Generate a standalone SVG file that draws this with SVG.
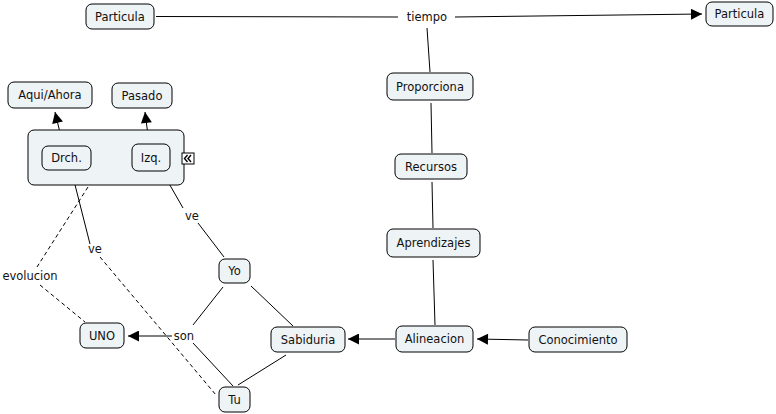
<svg xmlns="http://www.w3.org/2000/svg" width="776" height="414" viewBox="0 0 776 414">
<style>
.n rect{fill:#eef3f5;stroke:#000;stroke-width:1}
text{font-family:"DejaVu Sans",Verdana,sans-serif;font-size:11.5px;fill:#111;text-anchor:middle;dominant-baseline:central}
.c line,.c polyline{stroke:#000;stroke-width:1;fill:none}
.c .d{stroke-dasharray:4,3}
</style>
<defs>
<marker id="a" viewBox="0 0 10 10" refX="10" refY="5" markerWidth="12" markerHeight="11" markerUnits="userSpaceOnUse" orient="auto"><path d="M0,0 L10,5 L0,10 z" fill="#000"/></marker>
</defs>
<rect width="776" height="414" fill="#fff"/>
<g class="c">
<line x1="156" y1="16.5" x2="398" y2="17"/>
<line x1="455" y1="17" x2="702" y2="14" marker-end="url(#a)"/>
<line x1="427" y1="28" x2="430" y2="72"/>
<line x1="431" y1="103" x2="432" y2="153"/>
<line x1="432" y1="182" x2="433" y2="228"/>
<line x1="433" y1="260" x2="435" y2="325"/>
<line x1="528" y1="340" x2="477" y2="339" marker-end="url(#a)"/>
<line x1="395" y1="339" x2="348" y2="339" marker-end="url(#a)"/>
<line x1="251" y1="286" x2="293" y2="326"/>
<line x1="286" y1="355" x2="238" y2="385"/>
<line x1="223" y1="287" x2="193" y2="325"/>
<line x1="193" y1="343" x2="233" y2="386"/>
<line x1="172" y1="336" x2="128" y2="336" marker-end="url(#a)"/>
<line x1="163" y1="173" x2="183" y2="208"/>
<line x1="198" y1="223" x2="224" y2="257"/>
<line x1="72" y1="173" x2="90" y2="244"/>
<line class="d" x1="100" y1="257" x2="216" y2="395"/>
<line class="d" x1="88" y1="187" x2="37" y2="267"/>
<line class="d" x1="40" y1="285" x2="85" y2="322"/>
<line x1="63" y1="145" x2="55" y2="112" marker-end="url(#a)"/>
<line x1="149" y1="143" x2="145" y2="112" marker-end="url(#a)"/>
</g>
<g class="c-labels">
<text x="427" y="17">tiempo</text>
<text x="192" y="216">ve</text>
<text x="95" y="249">ve</text>
<text x="30" y="276">evolucion</text>
<text x="184" y="336">son</text>
</g>
<g id="n-container" class="n"><rect x="28" y="130" width="156" height="55" rx="6"/>
<rect x="182" y="153" width="12" height="11" style="fill:#fff;stroke:#000"/>
<polyline points="187.5,155 184.5,158.5 187.5,162" fill="none" stroke="#000" stroke-width="1.4"/>
<polyline points="191,155 188,158.5 191,162" fill="none" stroke="#000" stroke-width="1.4"/>
</g>
<g id="n-particula1" class="n"><rect x="86" y="4" width="68" height="25" rx="6"/><text x="120" y="16.5">Particula</text></g>
<g id="n-particula2" class="n"><rect x="706" y="2" width="67" height="24" rx="6"/><text x="739.5" y="14">Particula</text></g>
<g id="n-proporciona" class="n"><rect x="387" y="73" width="86" height="27" rx="6"/><text x="430" y="86.5">Proporciona</text></g>
<g id="n-recursos" class="n"><rect x="395" y="154" width="72" height="25" rx="6"/><text x="431" y="166.5">Recursos</text></g>
<g id="n-aprendizajes" class="n"><rect x="387" y="229" width="93" height="28" rx="6"/><text x="433.5" y="243">Aprendizajes</text></g>
<g id="n-alineacion" class="n"><rect x="396" y="326" width="77" height="26" rx="6"/><text x="434.5" y="339">Alineacion</text></g>
<g id="n-conocimiento" class="n"><rect x="529" y="327" width="98" height="25" rx="6"/><text x="578" y="339.5">Conocimiento</text></g>
<g id="n-sabiduria" class="n"><rect x="271" y="327" width="74" height="25" rx="6"/><text x="308" y="339.5">Sabiduria</text></g>
<g id="n-yo" class="n"><rect x="219" y="259" width="31" height="24" rx="6"/><text x="234.5" y="271">Yo</text></g>
<g id="n-tu" class="n"><rect x="219" y="387" width="31" height="25" rx="6"/><text x="234.5" y="399.5">Tu</text></g>
<g id="n-uno" class="n"><rect x="80" y="323" width="44" height="25" rx="6"/><text x="102" y="335.5">UNO</text></g>
<g id="n-drch" class="n"><rect x="42" y="146" width="49" height="24" rx="6"/><text x="66.5" y="158">Drch.</text></g>
<g id="n-izq" class="n"><rect x="132" y="144" width="38" height="27" rx="6"/><text x="151" y="157.5">Izq.</text></g>
<g id="n-aqui" class="n"><rect x="8" y="82" width="84" height="26" rx="6"/><text x="50" y="95">Aqui/Ahora</text></g>
<g id="n-pasado" class="n"><rect x="112" y="83" width="60" height="25" rx="6"/><text x="142" y="95.5">Pasado</text></g>
</svg>
